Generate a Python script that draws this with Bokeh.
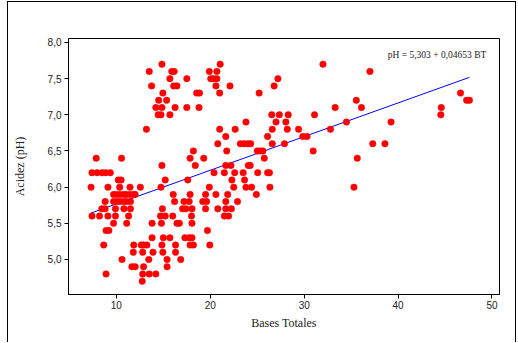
import numpy as np
from bokeh.plotting import figure
from bokeh.models import Range1d, Label, CustomJSTickFormatter, FixedTicker
from bokeh.embed import file_html
from bokeh.resources import INLINE

# Bases Totales (x) and Acidez pH (y)
bt_values = [
    14.85, 21.05, 32.0,
    13.5, 15.9, 16.15, 19.9, 20.7, 37.0,
    15.7, 17.5, 20.05, 20.35, 20.7, 27.2,
    13.75, 16.1, 16.45, 20.6, 22.1, 26.8,
    14.95, 18.55, 18.85, 21.0, 25.2, 46.65,
    14.5, 15.35, 35.55, 47.3, 47.6,
    14.2, 14.85, 16.25, 17.5, 18.8, 33.3, 36.1, 44.6,
    14.45, 14.75, 15.7, 26.55, 27.35, 28.3, 31.1, 44.55,
    23.8, 27.0, 28.05, 34.5, 39.25,
    13.2, 21.0, 22.65, 26.6, 28.2, 29.4, 32.8,
    21.65, 26.1, 29.85, 30.3,
    20.8, 23.2, 23.6, 24.0, 24.3, 26.6, 27.9, 37.3, 38.6,
    18.2, 21.75, 25.0, 25.3, 25.6, 30.95,
    7.85, 10.55, 17.85, 19.3, 25.75, 35.65,
    14.85, 18.4, 21.65, 22.2, 24.05, 24.25,
    7.4, 7.95, 8.5, 8.85, 9.35, 20.4, 21.5, 22.6, 23.5, 25.05, 26.1, 26.3,
    10.2, 10.5, 15.2, 17.6, 22.3, 23.65,
    7.3, 9.1, 10.35, 11.45, 12.55, 14.75, 19.9, 22.5, 23.8, 24.4, 26.35, 35.3,
    9.7, 10.05, 10.4, 10.8, 11.1, 11.5, 11.85, 12.0, 16.05, 17.85, 19.5, 20.6, 21.85, 24.9,
    8.8, 9.7, 10.05, 10.4, 10.8, 11.1, 11.5, 16.2, 17.2, 17.75, 19.2, 19.6, 21.65, 22.9,
    8.45, 8.8, 9.9, 10.8, 11.5, 14.9, 17.05, 17.4, 18.05, 19.5, 20.8, 21.65, 22.25,
    7.4, 8.2, 9.1, 9.9, 11.3, 14.7, 15.2, 16.0, 18.0, 21.5, 21.95,
    9.7, 11.1, 13.8, 14.8, 16.45, 16.7, 18.05,
    8.9, 9.2, 19.7,
    13.8, 15.0, 15.7, 17.3, 17.75, 18.05,
    8.65, 11.85, 12.65, 12.9, 13.25, 14.85, 16.3, 17.85, 18.2, 19.95,
    11.8, 12.8, 13.9, 14.95, 16.3,
    10.6, 13.45, 15.4, 16.85,
    11.65, 12.0, 12.9, 15.4,
    8.9, 12.8, 13.5, 14.2,
    12.75,
]
ph_values = [
    7.7, 7.7, 7.7,
    7.6, 7.6, 7.6, 7.6, 7.6, 7.6,
    7.5, 7.5, 7.5, 7.5, 7.5, 7.5,
    7.4, 7.4, 7.4, 7.4, 7.4, 7.4,
    7.3, 7.3, 7.3, 7.3, 7.3, 7.3,
    7.2, 7.2, 7.2, 7.2, 7.2,
    7.1, 7.1, 7.1, 7.1, 7.1, 7.1, 7.1, 7.1,
    7.0, 7.0, 7.0, 7.0, 7.0, 7.0, 7.0, 7.0,
    6.9, 6.9, 6.9, 6.9, 6.9,
    6.8, 6.8, 6.8, 6.8, 6.8, 6.8, 6.8,
    6.7, 6.7, 6.7, 6.7,
    6.6, 6.6, 6.6, 6.6, 6.6, 6.6, 6.6, 6.6, 6.6,
    6.5, 6.5, 6.5, 6.5, 6.5, 6.5,
    6.4, 6.4, 6.4, 6.4, 6.4, 6.4,
    6.3, 6.3, 6.3, 6.3, 6.3, 6.3,
    6.2, 6.2, 6.2, 6.2, 6.2, 6.2, 6.2, 6.2, 6.2, 6.2, 6.2, 6.2,
    6.1, 6.1, 6.1, 6.1, 6.1, 6.1,
    6.0, 6.0, 6.0, 6.0, 6.0, 6.0, 6.0, 6.0, 6.0, 6.0, 6.0, 6.0,
    5.9, 5.9, 5.9, 5.9, 5.9, 5.9, 5.9, 5.9, 5.9, 5.9, 5.9, 5.9, 5.9, 5.9,
    5.8, 5.8, 5.8, 5.8, 5.8, 5.8, 5.8, 5.8, 5.8, 5.8, 5.8, 5.8, 5.8, 5.8,
    5.7, 5.7, 5.7, 5.7, 5.7, 5.7, 5.7, 5.7, 5.7, 5.7, 5.7, 5.7, 5.7,
    5.6, 5.6, 5.6, 5.6, 5.6, 5.6, 5.6, 5.6, 5.6, 5.6, 5.6,
    5.5, 5.5, 5.5, 5.5, 5.5, 5.5, 5.5,
    5.4, 5.4, 5.4,
    5.3, 5.3, 5.3, 5.3, 5.3, 5.3,
    5.2, 5.2, 5.2, 5.2, 5.2, 5.2, 5.2, 5.2, 5.2, 5.2,
    5.1, 5.1, 5.1, 5.1, 5.1,
    5.0, 5.0, 5.0, 5.0,
    4.9, 4.9, 4.9, 4.9,
    4.8, 4.8, 4.8, 4.8,
    4.7,
]

# regression: pH = 5,303 + 0,04653 BT
intercept = 5.303
slope = 0.04653
equation_text = "pH =  5,303 + 0,04653 BT"

x_ticks = [10, 20, 30, 40, 50]
y_ticks = [5.0, 5.5, 6.0, 6.5, 7.0, 7.5, 8.0]

p = figure(width=509, height=341, output_backend="svg", toolbar_location=None,
           x_range=Range1d(4.9, 50.8), y_range=Range1d(4.516, 8.055),
           min_border_left=60, min_border_right=18, min_border_top=36,
           min_border_bottom=49)
p.styles = {"margin-left": "7px", "margin-top": "1px",
            "border-left": "1px solid #000", "border-top": "1px solid #000",
            "border-right": "1px solid #000"}

p.grid.visible = False
p.outline_line_color = "#000000"
p.outline_line_width = 1
p.background_fill_color = "white"
p.border_fill_color = "white"

for ax in (p.xaxis[0], p.yaxis[0]):
    ax.axis_line_color = "#000000"
    ax.major_tick_line_color = "#000000"
    ax.major_tick_out = 4
    ax.major_tick_in = 0
    ax.minor_tick_line_color = None
    ax.major_label_text_font = "Liberation Sans"
    ax.major_label_text_font_size = "10px"
    ax.major_label_text_color = "#222222"
    ax.axis_label_text_font = "Liberation Serif"
    ax.axis_label_text_font_size = "12px"
    ax.axis_label_text_font_style = "normal"
    ax.axis_label_text_color = "#222222"
    ax.major_label_standoff = 3

p.xaxis.major_label_standoff = 2
p.xaxis.ticker = FixedTicker(ticks=x_ticks)
p.yaxis.ticker = FixedTicker(ticks=y_ticks)
p.yaxis.formatter = CustomJSTickFormatter(code="return tick.toFixed(1).replace('.', ',');")
p.xaxis.axis_label = "Bases Totales"
p.yaxis.axis_label = "Acidez (pH)"
p.xaxis.axis_label_standoff = 4
p.yaxis.axis_label_standoff = 18

bt = np.array(bt_values)
lx = np.array([bt.min(), bt.max()])
ly = intercept + slope * lx
p.line(lx, ly, line_color="#0000FF", line_width=1)

p.scatter(bt_values, ph_values, size=6.5, fill_color="#FF0000",
          line_color="#FF0000", line_width=0.5)

p.add_layout(Label(x=38.9, y=7.83, text=equation_text,
                   text_font="Liberation Serif", text_font_size="9.5px",
                   text_baseline="middle", text_color="#222222"))

open("out.html", "w").write(file_html(p, INLINE))
